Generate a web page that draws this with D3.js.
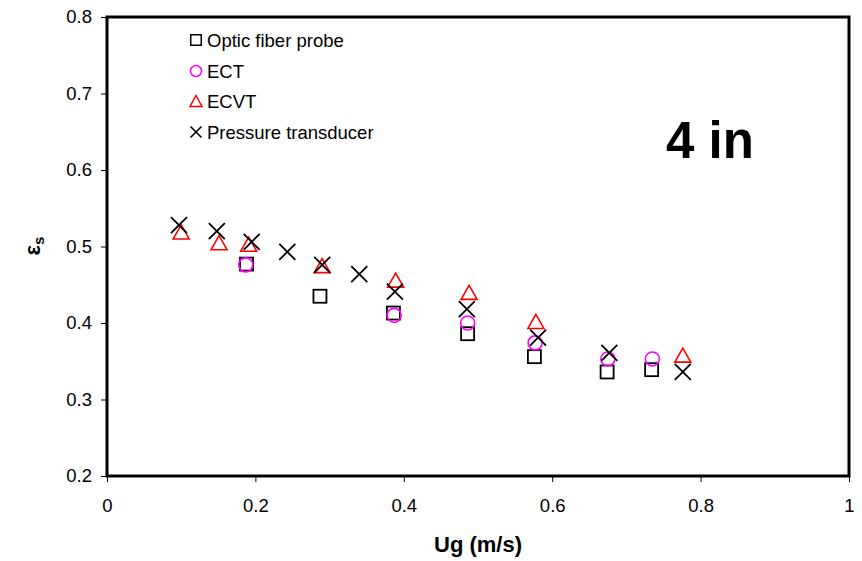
<!DOCTYPE html>
<html>
<head>
<meta charset="utf-8">
<script src="https://cdn.jsdelivr.net/npm/d3@7"></script>
<style>
  html, body { margin: 0; padding: 0; background: #fff; }
  svg { display: block; font-family: "Liberation Sans", Arial, sans-serif; }
</style>
</head>
<body>
<svg id="chart" width="862" height="561"></svg>
<script>
const ugOptic  = [0.188, 0.287, 0.386, 0.486, 0.576, 0.674, 0.734];
const epsOptic = [0.477, 0.435, 0.413, 0.386, 0.356, 0.336, 0.339];
const ugECT    = [0.187, 0.387, 0.486, 0.577, 0.675, 0.735];
const epsECT   = [0.476, 0.410, 0.400, 0.374, 0.353, 0.353];
const ugECVT   = [0.100, 0.151, 0.191, 0.290, 0.389, 0.488, 0.578, 0.776];
const epsECVT  = [0.519, 0.505, 0.503, 0.475, 0.456, 0.440, 0.402, 0.358];
const ugPT     = [0.097, 0.148, 0.195, 0.243, 0.290, 0.340, 0.388, 0.485, 0.581, 0.677, 0.776];
const epsPT    = [0.528, 0.520, 0.506, 0.493, 0.476, 0.464, 0.441, 0.418, 0.381, 0.361, 0.336];
const xTicks = [0, 0.2, 0.4, 0.6, 0.8, 1];
const yTicks = [0.2, 0.3, 0.4, 0.5, 0.6, 0.7, 0.8];
const seriesNames = ["Optic fiber probe", "ECT", "ECVT", "Pressure transducer"];

const svg = d3.select("#chart");
const x = d3.scaleLinear().domain([0, 1]).range([107, 849]);
const y = d3.scaleLinear().domain([0.2, 0.8]).range([476, 17]);

// axes
const xAxis = d3.axisBottom(x).tickValues(xTicks).tickFormat(d => d3.format("")(d)).tickSize(6).tickPadding(17);
const gx = svg.append("g").attr("transform", `translate(0,${y(0.2)})`).call(xAxis);
const yAxis = d3.axisLeft(y).tickValues(yTicks).tickFormat(d3.format(".1f")).tickSize(6).tickPadding(9);
const gy = svg.append("g").attr("transform", `translate(${x(0)},0)`).call(yAxis);
[gx, gy].forEach(g => {
  g.select(".domain").remove();
  g.selectAll(".tick line").attr("stroke", "#000").attr("stroke-width", 1);
  g.selectAll(".tick text").attr("fill", "#000").style("font-size", "18.5px").style("font-family", '"Liberation Sans", Arial, sans-serif');
});

// frame
svg.append("rect")
  .attr("x", x(0)).attr("y", y(0.8))
  .attr("width", x(1) - x(0)).attr("height", y(0.2) - y(0.8))
  .attr("fill", "none").attr("stroke", "#000").attr("stroke-width", 3);

// marker helpers
function square(g, cx, cy, s, sw) {
  g.append("rect").attr("x", cx - s / 2).attr("y", cy - s / 2).attr("width", s).attr("height", s)
    .attr("fill", "none").attr("stroke", "#000").attr("stroke-width", sw);
}
function circle(g, cx, cy, r, sw) {
  g.append("circle").attr("cx", cx).attr("cy", cy).attr("r", r)
    .attr("fill", "none").attr("stroke", "#FF00FF").attr("stroke-width", sw);
}
function triangle(g, cx, cy, w, h, sw) {
  g.append("path").attr("d", `M${cx},${cy - h / 2}L${cx + w / 2},${cy + h / 2}L${cx - w / 2},${cy + h / 2}Z`)
    .attr("fill", "none").attr("stroke", "#FF0000").attr("stroke-width", sw);
}
function cross(g, cx, cy, s, sw) {
  g.append("path").attr("d", `M${cx - s / 2},${cy - s / 2}L${cx + s / 2},${cy + s / 2}M${cx - s / 2},${cy + s / 2}L${cx + s / 2},${cy - s / 2}`)
    .attr("fill", "none").attr("stroke", "#000").attr("stroke-width", sw);
}

const pts = svg.append("g");
ugOptic.forEach((u, i) => square(pts, x(u), y(epsOptic[i]), 13, 1.8));
ugECT.forEach((u, i) => circle(pts, x(u), y(epsECT[i]), 7, 1.6));
ugECVT.forEach((u, i) => triangle(pts, x(u), y(epsECVT[i]), 16, 14, 1.6));
ugPT.forEach((u, i) => cross(pts, x(u), y(epsPT[i]), 16, 1.8));

// legend
const leg = svg.append("g");
const legY = [40, 71, 101, 132];
const legMX = 196;
square(leg, legMX, legY[0], 10.5, 1.5);
circle(leg, legMX, legY[1], 5.5, 1.5);
triangle(leg, legMX, legY[2], 12, 11, 1.5);
cross(leg, legMX, legY[3], 11, 1.6);
seriesNames.forEach((n, i) => {
  leg.append("text").attr("x", 207).attr("y", legY[i] + 6.5)
    .style("font-size", "18.5px").attr("fill", "#000").text(n);
});

// annotation
svg.append("text").attr("x", 710).attr("y", 158).attr("text-anchor", "middle")
  .style("font-size", "51px").style("font-weight", "bold").text("4 in");

// axis titles
svg.append("text").attr("x", 478).attr("y", 552).attr("text-anchor", "middle")
  .style("font-size", "22px").style("font-weight", "bold").text("Ug (m/s)");
const yt = svg.append("text").attr("transform", "translate(40,246) rotate(-90)").attr("text-anchor", "middle")
  .style("font-size", "22px").style("font-weight", "bold");
yt.append("tspan").text("ε");
yt.append("tspan").attr("dy", 4).style("font-size", "15px").text("s");
</script>
</body>
</html>
